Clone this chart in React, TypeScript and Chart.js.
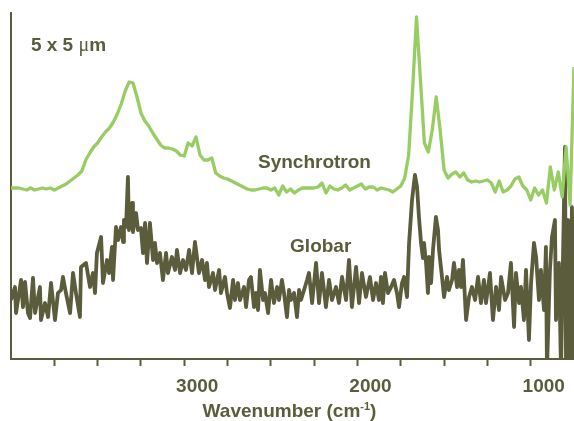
import { useEffect, useRef } from "react";
import { Chart, registerables } from "chart.js";

Chart.register(...registerables);

const OLIVE = "#5a5c3b";
const GREEN = "#97cd62";
const FONT = "'Liberation Sans', Arial, Helvetica, sans-serif";

// spectral range (cm-1)
const wavenumberStart = 4000;
const wavenumberEnd = 750;

// Synchrotron intensities (arbitrary units), evenly sampled from 4000 to 750 cm-1
const synchrotron = [
  171, 171, 171, 170, 169, 171, 169, 170, 171, 170,
  171, 169, 171, 173, 175, 178, 181, 184, 188, 199,
  206, 212, 216, 222, 227, 231, 237, 245, 255, 268,
  277, 276, 262, 246, 238, 233, 226, 220, 214, 211,
  211, 210, 208, 204, 203, 216, 213, 222, 204, 199,
  199, 201, 186, 183, 181, 180, 178, 176, 174, 172,
  170, 169, 169, 170, 171, 171, 169, 171, 164, 173,
  167, 170, 166, 169, 171, 171, 171, 171, 172, 176,
  166, 173, 170, 169, 171, 174, 169, 171, 173, 175,
  170, 172, 172, 169, 171, 170, 169, 167, 170, 173,
  181, 204, 269, 342, 279, 216, 207, 229, 262, 229,
  189, 181, 185, 187, 182, 186, 179, 177, 178, 177,
  178, 179, 176, 167, 178, 167, 169, 173, 180, 182,
  173, 169, 159, 171, 164, 169, 156, 192, 169, 187,
  162, 212, 154, 292,
];

// Globar spectrum: wavenumbers (cm-1) and intensities (arbitrary units)
const globarWavenumbers = [
  4000, 3977, 3971, 3942, 3931, 3919, 3902, 3890, 3873, 3861,
  3833, 3827, 3804, 3786, 3769, 3746, 3729, 3711, 3700, 3683,
  3659, 3642, 3625, 3602, 3596, 3567, 3544, 3527, 3515, 3504,
  3480, 3469, 3446, 3434, 3417, 3411, 3394, 3382, 3365, 3353,
  3348, 3336, 3325, 3319, 3301, 3296, 3278, 3267, 3250, 3238,
  3226, 3215, 3198, 3180, 3169, 3157, 3140, 3123, 3105, 3094,
  3071, 3053, 3042, 3024, 3007, 2990, 2972, 2955, 2938, 2915,
  2897, 2880, 2869, 2857, 2834, 2822, 2799, 2788, 2765, 2753,
  2736, 2718, 2707, 2690, 2678, 2655, 2643, 2626, 2615, 2597,
  2586, 2574, 2563, 2545, 2534, 2516, 2499, 2482, 2464, 2453,
  2436, 2424, 2407, 2395, 2384, 2366, 2349, 2337, 2326, 2303,
  2291, 2280, 2262, 2239, 2222, 2205, 2182, 2164, 2147, 2124,
  2107, 2089, 2066, 2049, 2032, 2008, 1991, 1974, 1951, 1928,
  1910, 1893, 1876, 1864, 1853, 1841, 1824, 1806, 1789, 1772,
  1760, 1743, 1731, 1714, 1702, 1685, 1668, 1656, 1645, 1633,
  1622, 1616, 1604, 1593, 1587, 1575, 1564, 1547, 1535, 1529,
  1512, 1500, 1483, 1472, 1454, 1443, 1425, 1414, 1402, 1391,
  1373, 1356, 1339, 1321, 1304, 1287, 1270, 1258, 1235, 1218,
  1200, 1183, 1171, 1148, 1131, 1114, 1096, 1085, 1067, 1056,
  1039, 1027, 1010, 998, 981, 969, 952, 941, 923, 912,
  906, 889, 877, 860, 854, 837, 825, 814, 802, 796,
  785, 773, 762, 750,
];

const globar = [
  59, 72, 46, 79, 52, 77, 46, 41, 81, 46,
  72, 39, 56, 42, 76, 39, 66, 69, 82, 66,
  46, 86, 66, 42, 92, 96, 72, 86, 66, 106,
  122, 76, 99, 86, 112, 79, 132, 119, 132, 117,
  139, 132, 182, 129, 156, 127, 146, 129, 131, 106,
  136, 96, 136, 99, 116, 96, 106, 79, 106, 86,
  102, 89, 109, 86, 99, 89, 109, 86, 117, 86,
  99, 79, 96, 72, 86, 69, 89, 66, 82, 66,
  51, 79, 59, 76, 59, 72, 52, 79, 82, 52,
  66, 49, 89, 59, 66, 46, 79, 56, 72, 59,
  79, 66, 42, 69, 59, 66, 42, 69, 59, 72,
  79, 86, 56, 96, 56, 86, 52, 79, 59, 72,
  56, 82, 59, 99, 52, 92, 56, 86, 62, 82,
  59, 76, 59, 82, 56, 86, 66, 72, 79, 66,
  52, 76, 82, 62, 116, 159, 184, 172, 142, 116,
  101, 116, 96, 66, 102, 76, 109, 142, 129, 109,
  82, 62, 82, 69, 79, 96, 72, 89, 72, 99,
  39, 62, 72, 59, 82, 56, 79, 56, 86, 39,
  72, 49, 82, 59, 66, 96, 32, 86, 56, 72,
  39, 89, 19, 76, 116, 102, 59, 89, 49, 112,
  -11, 89, 122, 139, 39, 96, -11, 96, 212, -11,
  139, -11, 152, -11,
];

const synchrotronWavenumbers = synchrotron.map(
  (_, i) => wavenumberStart - (i * (wavenumberStart - wavenumberEnd)) / (synchrotron.length - 1)
);

const tickValues = [3750, 3500, 3250, 3000, 2750, 2500, 2250, 2000, 1750, 1500, 1250, 1000];
const labeledTicks = [3000, 2000, 1000];

const annotations = [
  { text: "Synchrotron", wn: 2574, value: 191 },
  { text: "Globar", wn: 2389, value: 107 },
];
const sizeLabel = { wn: 3885, value: 308 };

const textPlugin = {
  id: "texts",
  afterDraw(chart: any) {
    const { ctx, scales, chartArea } = chart;
    const x = scales.x;
    const y = scales.y;
    ctx.save();
    ctx.fillStyle = OLIVE;
    ctx.textBaseline = "alphabetic";
    ctx.textAlign = "left";
    const bold = `bold 19px ${FONT}`;
    ctx.font = bold;
    for (const a of annotations) {
      ctx.fillText(a.text, x.getPixelForValue(a.wn), y.getPixelForValue(a.value));
    }
    // 5 x 5 µm
    let px = x.getPixelForValue(sizeLabel.wn);
    const py = y.getPixelForValue(sizeLabel.value);
    ctx.font = bold;
    ctx.fillText("5 x 5 ", px, py);
    px += ctx.measureText("5 x 5 ").width;
    ctx.font = `20px 'Liberation Serif', serif`;
    ctx.fillText("\u03bc", px, py);
    px += ctx.measureText("\u03bc").width;
    ctx.font = bold;
    ctx.fillText("m", px, py);

    // axis title with superscript
    const main = "Wavenumber (cm";
    const sup = "-1";
    const close = ")";
    ctx.font = bold;
    const w1 = ctx.measureText(main).width;
    const w3 = ctx.measureText(close).width;
    ctx.font = `bold 11px ${FONT}`;
    const w2 = ctx.measureText(sup).width;
    const total = w1 + w2 + w3;
    const cx = (chartArea.left + chartArea.right) / 2 - 3;
    const by = 417;
    let tx = cx - total / 2;
    ctx.font = bold;
    ctx.fillText(main, tx, by);
    tx += w1;
    ctx.font = `bold 11px ${FONT}`;
    ctx.fillText(sup, tx, by - 7);
    tx += w2;
    ctx.font = bold;
    ctx.fillText(close, tx, by);
    ctx.restore();
  },
};

export default function App() {
  const canvasRef = useRef<HTMLCanvasElement | null>(null);

  useEffect(() => {
    const canvas = canvasRef.current;
    if (!canvas) return;
    const chart = new Chart(canvas, {
      type: "line",
      data: {
        datasets: [
          {
            label: "Synchrotron",
            data: synchrotronWavenumbers.map((w, i) => ({ x: w, y: synchrotron[i] })),
            borderColor: GREEN,
            borderWidth: 3.3,
            pointRadius: 0,
            tension: 0,
            borderJoinStyle: "round",
            fill: false,
          },
          {
            label: "Globar",
            data: globarWavenumbers.map((w, i) => ({ x: w, y: globar[i] })),
            borderColor: OLIVE,
            borderWidth: 3.8,
            pointRadius: 0,
            tension: 0,
            borderJoinStyle: "round",
            fill: false,
          },
        ],
      },
      options: {
        animation: false,
        responsive: false,
        devicePixelRatio: 1,
        layout: { padding: { left: 0, right: 0, top: 13, bottom: 0 } },
        plugins: { legend: { display: false }, tooltip: { enabled: false }, title: { display: false } },
        scales: {
          x: {
            type: "linear",
            reverse: true,
            min: wavenumberEnd,
            max: wavenumberStart,
            afterBuildTicks: (s: any) => {
              s.ticks = tickValues.map((v) => ({ value: v }));
            },
            afterFit: (s: any) => {
              s.height = 62;
            },
            grid: {
              display: true,
              drawOnChartArea: false,
              drawTicks: true,
              tickLength: 7,
              tickWidth: 2,
              tickColor: OLIVE,
              color: OLIVE,
            },
            border: { display: true, color: OLIVE, width: 2 },
            ticks: {
              autoSkip: false,
              maxRotation: 0,
              minRotation: 0,
              labelOffset: 13,
              padding: 9,
              color: OLIVE,
              font: { family: FONT, size: 19, weight: "bold" },
              callback: (v: any) => (labeledTicks.includes(Number(v)) ? String(v) : ""),
            },
          },
          y: {
            type: "linear",
            min: 0,
            max: 346,
            afterFit: (s: any) => {
              s.width = 11;
            },
            ticks: { display: false },
            grid: { display: false, drawTicks: false },
            border: { display: true, color: OLIVE, width: 2 },
          },
        },
      },
      plugins: [textPlugin],
    });
    return () => chart.destroy();
  }, []);

  return (
    <div style={{ position: "absolute", left: 0, top: 0, width: 574, height: 421, background: "#fff" }}>
      <canvas ref={canvasRef} width={574} height={421} style={{ width: 574, height: 421, display: "block" }} />
    </div>
  );
}
